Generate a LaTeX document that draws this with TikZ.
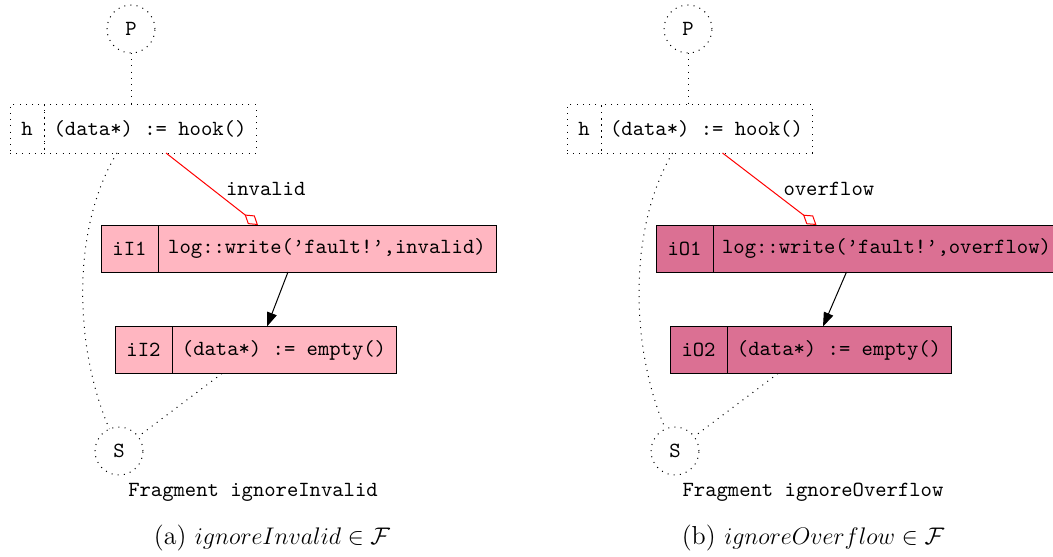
\documentclass[tikz,border=0pt]{standalone}
\usetikzlibrary{arrows.meta,positioning}
\definecolor{invalidpink}{HTML}{FFB6C1}
\definecolor{overflowpink}{HTML}{DB7093}
\begin{document}
\begin{tikzpicture}[x=0.5pt, y=-0.5pt, line width=0.5pt,
    every node/.style={font=\fontsize{10.8}{12}\selectfont\ttfamily, inner sep=0pt, outer sep=0pt},
    port/.style={draw, circle, dash pattern=on 0.5pt off 2.6pt, minimum size=24pt},
    cell/.style={draw, rectangle, minimum height=23.5pt, anchor=west},
    hookcell/.style={cell, dash pattern=on 0.5pt off 2.6pt, minimum height=24pt},
    flow/.style={dash pattern=on 0.5pt off 2.6pt},
    fault/.style={draw=red, -{Diamond[open,length=8.5pt,width=5.5pt]}},
    next/.style={-{Triangle[length=7pt,width=5pt]}},
    caption/.style={font=\fontsize{13}{15}\selectfont\rmfamily}]
  \useasboundingbox (0,0) rectangle (1053,556);

  % (a) ignoreInvalid
  \node[port] (PI) at (131,29) {P};
  \node[hookcell, minimum width=17pt] (hI) at (10,129) {h};
  \node[hookcell, minimum width=106pt] (hIc) at (hI.east) {(data*) := hook()};
  \node[cell, fill=invalidpink, minimum width=28.5pt] (iI1) at (101,248.5) {iI1};
  \node[cell, fill=invalidpink, minimum width=169pt] (iI1c) at (iI1.east) {log::write(’fault!’,invalid)};
  \node[cell, fill=invalidpink, minimum width=28.5pt] (iI2) at (115,350) {iI2};
  \node[cell, fill=invalidpink, minimum width=112pt] (iI2c) at (iI2.east) {(data*) := empty()};
  \node[port] (SI) at (119,451) {S};
  \node (fragI) at (253,492) {Fragment ignoreInvalid};
  \node[caption] (capI) at (272,538) {(a) $ignoreInvalid \in \mathcal{F}$};

  \draw[flow] (PI) -- (PI.south |- hIc.north);
  \draw[fault] ([xshift=8pt]hIc.south) -- ([xshift=-34.5pt]iI1c.north)
    node[pos=0.5, anchor=west, xshift=7pt] {invalid};
  \draw[next] ([xshift=-19.5pt]iI1c.south) -- ([xshift=-8.5pt]iI2c.north);
  \draw[flow] ([xshift=-16.5pt]hIc.south) .. controls (70,230) and (75,350) .. (SI);
  \draw[flow] ([xshift=-31pt]iI2c.south) -- (SI);

  % (b) ignoreOverflow
  \node[port] (PO) at (688,29) {P};
  \node[hookcell, minimum width=17pt] (hO) at (567,129) {h};
  \node[hookcell, minimum width=105.5pt] (hOc) at (hO.east) {(data*) := hook()};
  \node[cell, fill=overflowpink, minimum width=28.5pt] (iO1) at (656,248.5) {iO1};
  \node[cell, fill=overflowpink, minimum width=173.5pt] (iO1c) at (iO1.east) {log::write(’fault!’,overflow)};
  \node[cell, fill=overflowpink, minimum width=28.5pt] (iO2) at (670,350) {iO2};
  \node[cell, fill=overflowpink, minimum width=112pt] (iO2c) at (iO2.east) {(data*) := empty()};
  \node[port] (SO) at (675,451) {S};
  \node (fragO) at (813,492) {Fragment ignoreOverflow};
  \node[caption] (capO) at (813,538) {(b) $ignoreOverflow \in \mathcal{F}$};

  \draw[flow] (PO) -- (PO.south |- hOc.north);
  \draw[fault] ([xshift=8pt]hOc.south) -- ([xshift=-35pt]iO1c.north)
    node[pos=0.5, anchor=west, xshift=7pt] {overflow};
  \draw[next] ([xshift=-20pt]iO1c.south) -- ([xshift=-8pt]iO2c.north);
  \draw[flow] ([xshift=-17pt]hOc.south) .. controls (627,230) and (631,350) .. (SO);
  \draw[flow] ([xshift=-30.5pt]iO2c.south) -- (SO);
\end{tikzpicture}
\end{document}
